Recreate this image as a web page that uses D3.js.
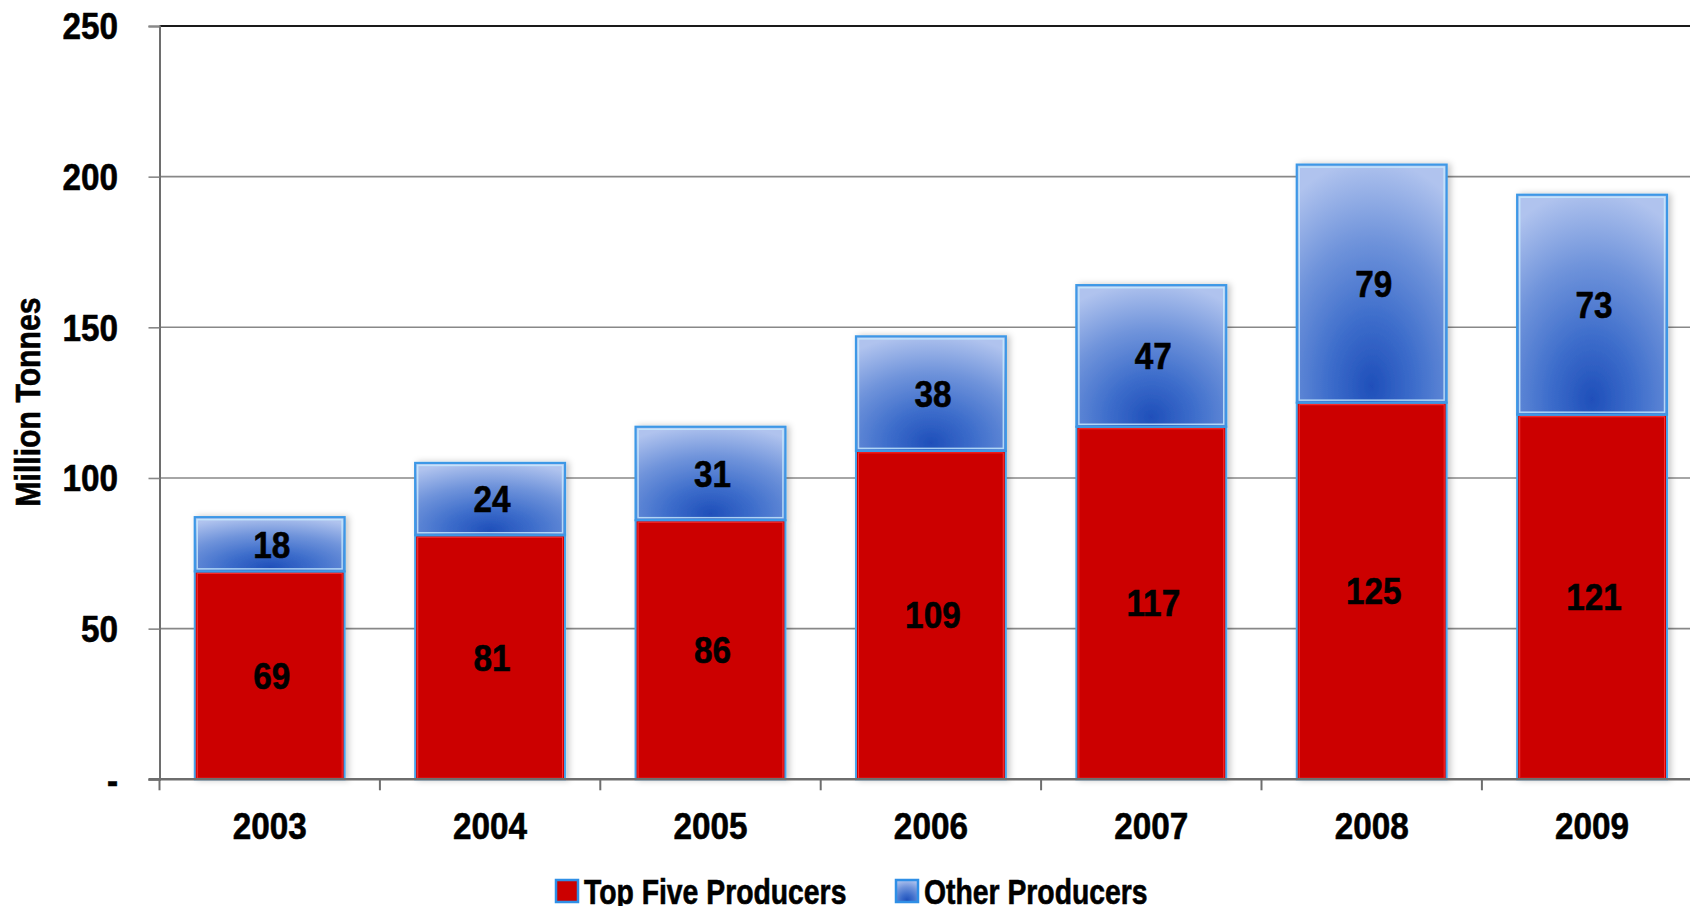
<!DOCTYPE html>
<html>
<head>
<meta charset="utf-8">
<script src="https://cdn.jsdelivr.net/npm/d3@7"></script>
<style>
  html, body { margin: 0; padding: 0; background: #ffffff; overflow: hidden; }
  svg { display: block; }
  text { font-family: "Liberation Sans", Arial, sans-serif; font-weight: bold; fill: #000; stroke: #000; stroke-width: 0.6px; }
</style>
</head>
<body>
<svg id="chart" width="1690" height="906"></svg>
<script>
const years = ["2003", "2004", "2005", "2006", "2007", "2008", "2009"];
const topFive = [69, 81, 86, 109, 117, 125, 121];
const others = [18, 24, 31, 38, 47, 79, 73];
const yTicks = [0, 50, 100, 150, 200, 250];
const yTickLabels = ["-", "50", "100", "150", "200", "250"];
const seriesNames = ["Top Five Producers", "Other Producers"];
const yTitle = "Million Tonnes";

(function () {
const W = 1690, H = 906;
const plotLeft = 159.5, step = 220.4, plotTop = 26, plotBottom = 779.3;
const svg = d3.select("#chart");
const defs = svg.append("defs");

function ntext(parent, tx, ty, str, size, anchor, sx, rot) {
  return parent.append("text")
    .attr("transform", `translate(${tx},${ty})` + (rot ? ` rotate(${rot})` : "") + ` scale(${sx},1)`)
    .attr("text-anchor", anchor || "middle").attr("dy", "0.36em")
    .style("font-size", size + "px").text(str);
}

const grad = defs.append("radialGradient").attr("id", "blueGrad")
  .attr("cx", 0.5).attr("cy", 0.93).attr("r", 0.95).attr("fx", 0.5).attr("fy", 0.93);
grad.append("stop").attr("offset", 0).attr("stop-color", "#1f4fba");
grad.append("stop").attr("offset", 0.3).attr("stop-color", "#3d6dcb");
grad.append("stop").attr("offset", 0.65).attr("stop-color", "#7094db");
grad.append("stop").attr("offset", 1).attr("stop-color", "#b0c3ee");

const shadow = defs.append("filter").attr("id", "shadow").attr("x", -0.2).attr("y", -0.2).attr("width", 1.4).attr("height", 1.4);
shadow.append("feDropShadow").attr("dx", 3).attr("dy", 0).attr("stdDeviation", 3)
  .attr("flood-color", "#000").attr("flood-opacity", 0.22);

const x = d3.scaleBand().domain(years).range([plotLeft, plotLeft + step * years.length])
  .paddingInner(0.32).paddingOuter(0.16);
const y = d3.scaleLinear().domain([0, 250]).range([plotBottom, plotTop]);

// gridlines
svg.append("g").selectAll("line").data(yTicks.filter(d => d > 0)).join("line")
  .attr("x1", plotLeft).attr("x2", W).attr("y1", d => y(d)).attr("y2", d => y(d))
  .attr("stroke", d => d === 250 ? "#1a1a1a" : "#888").attr("stroke-width", d => d === 250 ? 2 : 1.6);

// y axis (line + ticks via d3 axis, labels drawn narrow)
const yAxis = svg.append("g").attr("transform", `translate(${plotLeft},0)`)
  .call(d3.axisLeft(y).tickValues(yTicks).tickFormat("").tickSize(11));
yAxis.select(".domain").attr("stroke", "#6e6e6e").attr("stroke-width", 2);
yAxis.selectAll(".tick line").attr("stroke", "#888").attr("stroke-width", 1.6);
const yl = svg.append("g");
yTicks.forEach((v, i) => ntext(yl, 118, y(v), yTickLabels[i], 37, "end", 0.9));

// y title
ntext(svg, 27, 402, yTitle, 36, "middle", 0.84, -90);

// bars
const data = years.map((yr, i) => ({ yr, a: topFive[i], b: others[i] }));
const bars = svg.append("g");
const g = bars.selectAll("g").data(data).join("g").attr("filter", "url(#shadow)");
g.append("rect").attr("x", d => x(d.yr)).attr("width", x.bandwidth())
  .attr("y", d => y(d.a)).attr("height", d => y(0) - y(d.a))
  .attr("fill", "#cc0000").attr("stroke", "#47a4ec").attr("stroke-width", 2);
g.append("rect").attr("x", d => x(d.yr) + 2.5).attr("width", x.bandwidth() - 5)
  .attr("y", d => y(d.a) + 2).attr("height", d => y(0) - y(d.a) - 3)
  .attr("fill", "none").attr("stroke", "#ff3030").attr("stroke-width", 1);
g.append("rect").attr("x", d => x(d.yr)).attr("width", x.bandwidth())
  .attr("y", d => y(d.a + d.b)).attr("height", d => y(d.a) - y(d.a + d.b))
  .attr("fill", "url(#blueGrad)").attr("stroke", "#3d98e6").attr("stroke-width", 2.2);
g.append("rect").attr("x", d => x(d.yr) + 2.5).attr("width", x.bandwidth() - 5)
  .attr("y", d => y(d.a + d.b) + 2.5).attr("height", d => y(d.a) - y(d.a + d.b) - 5)
  .attr("fill", "none").attr("stroke", "#c8ecff").attr("stroke-opacity", 0.8).attr("stroke-width", 1.5);

// x axis line
svg.append("line").attr("x1", plotLeft - 11).attr("x2", W).attr("y1", plotBottom).attr("y2", plotBottom)
  .attr("stroke", "#6e6e6e").attr("stroke-width", 2.4);

// value labels
const lab = svg.append("g");
data.forEach(d => {
  const cx = x(d.yr) + x.bandwidth() / 2;
  ntext(lab, cx + 2, y(d.a / 2), d.a, 37, "middle", 0.9);
  ntext(lab, cx + 2, y(d.a + d.b / 2), d.b, 37, "middle", 0.9);
});

// x axis ticks and labels
const bounds = years.map(d => x(d) - x.step() * x.paddingOuter()).concat([plotLeft + step * years.length]);
svg.append("g").selectAll("line").data(bounds).join("line")
  .attr("x1", d => d).attr("x2", d => d).attr("y1", plotBottom).attr("y2", plotBottom + 11)
  .attr("stroke", "#6e6e6e").attr("stroke-width", 2);
const xl = svg.append("g");
years.forEach(d => ntext(xl, x(d) + x.bandwidth() / 2, 826, d, 37, "middle", 0.9));

// legend
const legend = svg.append("g");
const legX = [556, 896];
const fills = ["#cc0000", "url(#blueGrad)"];
seriesNames.forEach((name, i) => {
  const lg = legend.append("g").attr("transform", `translate(${legX[i]},880)`);
  lg.append("rect").attr("x", 0).attr("y", 0).attr("width", 22).attr("height", 22)
    .attr("fill", fills[i]).attr("stroke", "#2f8fe6").attr("stroke-width", 2.5);
  ntext(lg, 28, 11, name, 35, "start", 0.81);
});
})();
</script>
</body>
</html>
